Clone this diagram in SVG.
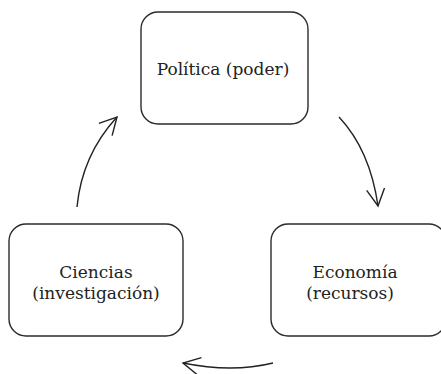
<svg xmlns="http://www.w3.org/2000/svg" width="441" height="374" viewBox="0 0 441 374">
  <style>
    .box { fill: #ffffff; stroke: #2b2b2b; stroke-width: 1.4; }
    .label { font-family: 'DejaVu Serif', 'Liberation Serif', serif; font-size: 17px; fill: #222222; text-anchor: middle; }
    .arrow { fill: none; stroke: #222222; stroke-width: 1.4; marker-end: url(#head); }
  </style>
  <defs>
    <marker id="head" markerUnits="userSpaceOnUse" markerWidth="40" markerHeight="40" viewBox="-20 -20 40 40" refX="0" refY="0" orient="auto" overflow="visible">
      <path d="M-17,-9 L0,0 L-17,9" fill="none" stroke="#222222" stroke-width="1.4"/>
    </marker>
  </defs>
  <rect width="441" height="374" fill="#ffffff"/>

  <g id="politica">
    <rect class="box" x="141" y="12" width="167" height="112" rx="17"/>
    <text class="label" x="223" y="75">Política (poder)</text>
  </g>

  <g id="ciencias">
    <rect class="box" x="9" y="224" width="174" height="112" rx="17"/>
    <text class="label" x="96" y="278">Ciencias</text>
    <text class="label" x="96" y="299">(investigación)</text>
  </g>

  <g id="economia">
    <rect class="box" x="271" y="224" width="175" height="112" rx="17"/>
    <text class="label" x="355" y="278">Economía</text>
    <text class="label" x="350" y="299">(recursos)</text>
  </g>

  <g id="connectors">
    <path class="arrow" d="M339,117 Q370,150 378,206"/>
    <path class="arrow" d="M273,363 Q232,373 183,363"/>
    <path class="arrow" d="M77,207 Q82,155 117,117"/>
  </g>
</svg>
